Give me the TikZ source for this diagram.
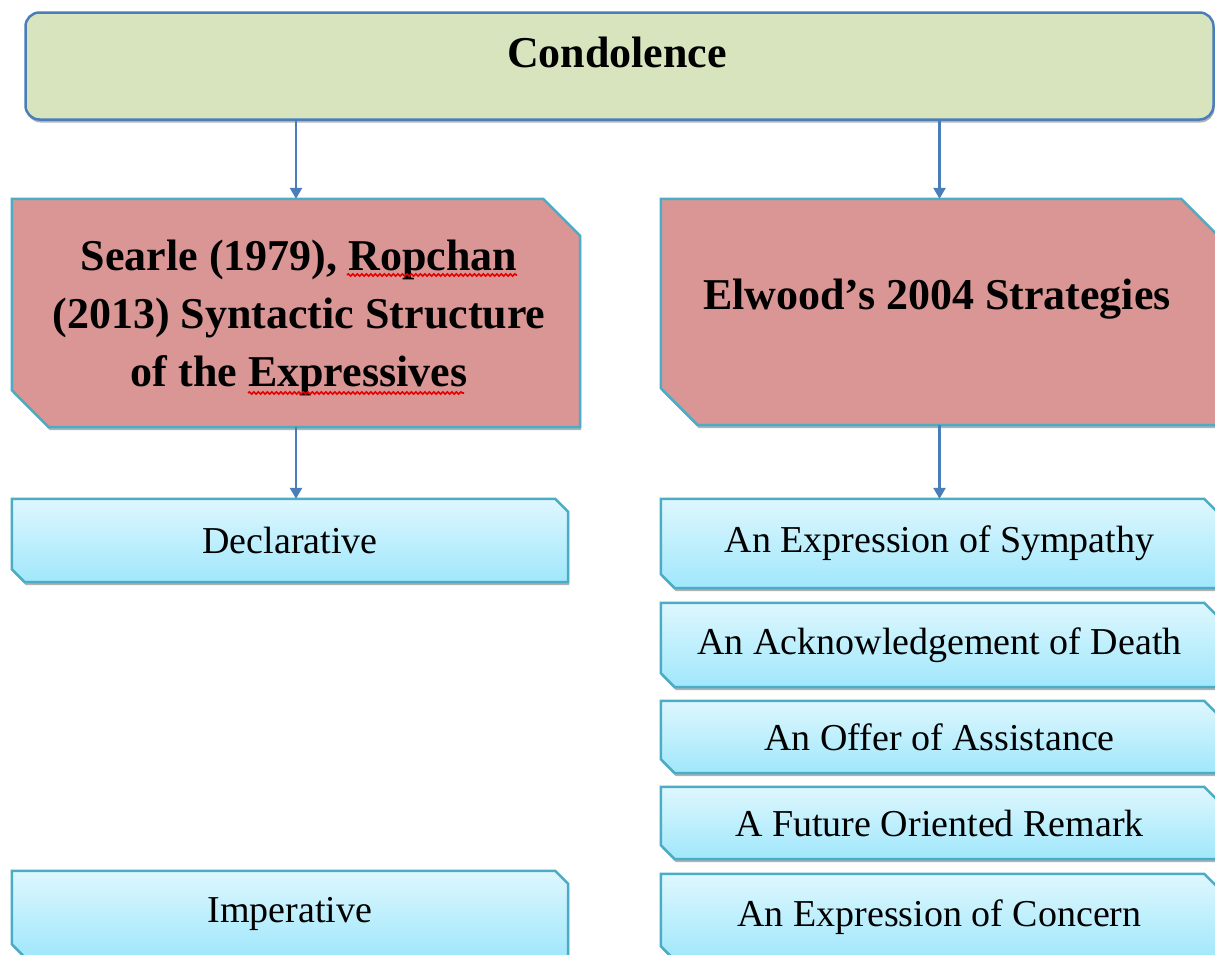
\documentclass[tikz,border=0pt]{standalone}
\usepackage{fontspec}
\setmainfont{Liberation Serif}
\usetikzlibrary{shadows,arrows.meta,decorations.pathmorphing}
\pgfdeclarelayer{background}
\pgfsetlayers{background,main}
\definecolor{topfill}{RGB}{215,228,189}
\definecolor{topline}{RGB}{74,126,187}
\definecolor{redfill}{RGB}{217,150,148}
\definecolor{cyanline}{RGB}{75,172,198}
\definecolor{bluetop}{RGB}{222,247,254}
\definecolor{bluebot}{RGB}{160,231,251}
\definecolor{arrowc}{RGB}{74,126,187}
\newcommand\chbox[3]{%
  \begin{pgfonlayer}{background}
  \path[#3] ([xshift=-#2]#1.north east) -- ([yshift=-#2]#1.north east) -- (#1.south east)
    -- ([xshift=#2]#1.south west) -- ([yshift=#2]#1.south west) -- (#1.north west) -- cycle;
  \end{pgfonlayer}}
\begin{document}
\begin{tikzpicture}[x=1pt,y=-1pt,
  shadowed/.style={drop shadow={shadow xshift=1pt,shadow yshift=-3pt,opacity=0.3,fill=black}},
  topbox/.style={draw=topline,line width=2.5pt,fill=topfill,rounded corners=14pt,
    minimum width=1188pt,minimum height=107pt,inner sep=0pt,shadowed},
  frame/.style={rectangle,inner sep=0pt,draw=none},
  redpath/.style={draw=cyanline,line width=2.5pt,fill=redfill,shadowed},
  bluepath/.style={top color=bluetop,bottom color=bluebot,draw=cyanline,line width=2.5pt,shadowed},
  bluebox/.style={frame,font=\fontsize{38}{44}\selectfont},
  headtext/.style={font=\bfseries\fontsize{44}{58}\selectfont,align=center,inner sep=0pt},
  arr/.style={draw=arrowc,line width=2.6pt,-{Triangle[length=11pt,width=12pt]}},
  squig/.style={draw=red!90!black,line width=1.6pt,decorate,decoration={snake,amplitude=1.1pt,segment length=4.5pt}}
]
\useasboundingbox (0,0) rectangle (1215,954);
\clip (0,0) rectangle (1215,954);

\node[topbox] (cond) at (619.5,66) {};
\node[headtext] (condt) at (617,52) {Condolence};

\node[frame,minimum width=568pt,minimum height=228pt] (red1) at (296,313) {};
\chbox{red1}{37pt}{redpath}
\node[headtext] (red1t) at (299,318) {Searle (1979), Ropchan\\(2013) Syntactic Structure\\of the Expressives};
\node[frame,minimum width=557pt,minimum height=226pt] (red2) at (939.5,312) {};
\chbox{red2}{37pt}{redpath}
\node[headtext] (red2t) at (937,299) {Elwood’s 2004 Strategies};

\node[bluebox,minimum width=556pt,minimum height=83pt] (decl) at (290,540.5) {Declarative};
\chbox{decl}{13pt}{bluepath}
\node[bluebox,minimum width=556pt,minimum height=86pt] (imper) at (290,914) {Imperative};
\chbox{imper}{13pt}{bluepath}

\node[bluebox,minimum width=557pt,minimum height=89pt] (sym) at (939.5,543.5) {An Expression of Sympathy};
\chbox{sym}{14pt}{bluepath}
\node[bluebox,minimum width=557pt,minimum height=84pt] (death) at (939.5,645) {An Acknowledgement of Death};
\chbox{death}{14pt}{bluepath}
\node[bluebox,minimum width=557pt,minimum height=72pt] (offer) at (939.5,737) {An Offer of Assistance};
\chbox{offer}{14pt}{bluepath}
\node[bluebox,minimum width=557pt,minimum height=72pt] (future) at (939.5,823) {A Future Oriented Remark};
\chbox{future}{14pt}{bluepath}
\node[bluebox,minimum width=557pt,minimum height=86pt] (concern) at (939.5,917) {An Expression of Concern};
\chbox{concern}{14pt}{bluepath}

\draw[arr] (cond.south -| red1.north) -- (red1.north);
\draw[arr] (cond.south -| red2.north) -- (red2.north);
\draw[arr] (red1.south) -- (red1.south |- decl.north);
\draw[arr] (red2.south) -- (red2.south |- sym.north);

\draw[squig] (347,275) -- (517,275);
\draw[squig] (248,393) -- (464,393);
\end{tikzpicture}
\end{document}
